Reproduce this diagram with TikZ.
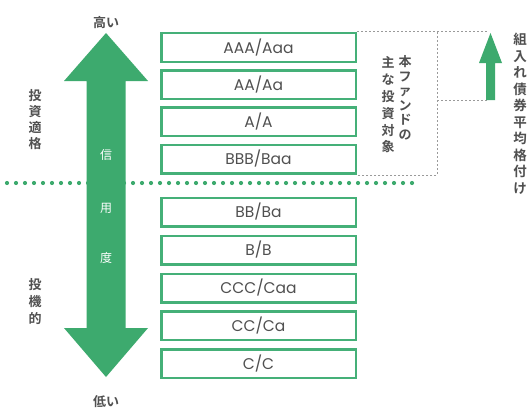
\documentclass[tikz,border=0pt]{standalone}
\usepackage{fontspec}
\newfontfamily\jp{Noto Sans CJK JP}
\newfontfamily\jpb{Noto Sans CJK JP Bold}
\newfontfamily\lat{Poppins}
\definecolor{cgreen}{HTML}{3DAA6E}
\definecolor{bgreen}{HTML}{45B078}
\definecolor{tgray}{HTML}{505050}
\definecolor{dgray}{HTML}{9A9A9A}
\begin{document}
\begin{tikzpicture}[x=1pt,y=-1pt,
  rating/.style={draw=bgreen, line width=2.5pt, minimum width=194.5pt, minimum height=28.5pt,
     inner sep=0pt, text=tgray, font=\lat\fontsize{15.5}{17}\selectfont},
  vlabel/.style={text=tgray, align=center, inner sep=0pt},
  wlabel/.style={text=white, inner sep=0pt, font=\jp\fontsize{12}{14}\selectfont},
  gdash/.style={draw=dgray, line width=1pt, dash pattern=on 2pt off 2pt}]
\useasboundingbox[fill=white] (0,0) rectangle (529,412);

% dotted separator
\draw[cgreen, line width=4.2pt, line cap=round, dash pattern=on 0pt off 9pt] (7,183) -- (413,183);

% big double arrow
\fill[cgreen] (106,33) -- (148,81) -- (125.5,81) -- (125.5,328) -- (148,328) -- (106,377)
  -- (64,328) -- (86.5,328) -- (86.5,81) -- (64,81) -- cycle;
\node[wlabel] (shin) at (106,155) {信};
\node[wlabel] (yo) at (106,208) {用};
\node[wlabel] (do) at (106,258) {度};

% top / bottom labels
\node[text=tgray, inner sep=0pt, font=\jpb\fontsize{13}{15}\selectfont] (high) at (106,23) {高い};
\node[text=tgray, inner sep=0pt, font=\jpb\fontsize{13}{15}\selectfont] (low) at (106,402) {低い};

% side labels
\node[vlabel, font=\jpb\fontsize{13}{16}\selectfont] (ig) at (35,120) {投\\資\\適\\格};
\node[vlabel, font=\jpb\fontsize{13}{17}\selectfont] (sp) at (35,302) {投\\機\\的};

% rating boxes
\node[rating] (r1) at (258.5,47.5) {AAA/Aaa};
\node[rating] (r2) at (258.5,84.5) {AA/Aa};
\node[rating] (r3) at (258.5,121.5) {A/A};
\node[rating] (r4) at (258.5,159) {BBB/Baa};
\node[rating] (r5) at (258.5,212) {BB/Ba};
\node[rating] (r6) at (258.5,250) {B/B};
\node[rating] (r7) at (258.5,288) {CCC/Caa};
\node[rating] (r8) at (258.5,325.5) {CC/Ca};
\node[rating] (r9) at (258.5,363.5) {C/C};

% dashed bracket
\coordinate (dtl) at (357,32);
\coordinate (dtc) at (437,32);
\coordinate (dtr) at (488,32);
\coordinate (dbl) at (357,175);
\coordinate (dbc) at (437,175);
\coordinate (dmc) at (437,100);
\coordinate (dmr) at (488,100);
\draw[gdash] (dtl) -- (dtr);
\draw[gdash] (dtc) -- (dbc) -- (dbl);
\draw[gdash] (dmc) -- (dmr);

% fund target text
\node[vlabel, font=\jpb\fontsize{13}{14.5}\selectfont] (fund1) at (405,98) {本\\フ\\ァ\\ン\\ド\\の};
\node[vlabel, font=\jpb\fontsize{13}{16.8}\selectfont] (fund2) at (388,105) {主\\な\\投\\資\\対\\象};

% small arrow
\fill[cgreen] (490.5,33) -- (502,63) -- (495,63) -- (495,100) -- (486,100) -- (486,63) -- (479,63) -- cycle;

% average rating text
\node[vlabel, font=\jpb\fontsize{13.5}{16.5}\selectfont] (avg) at (520,114) {組\\入\\れ\\債\\券\\平\\均\\格\\付\\け};
\end{tikzpicture}
\end{document}
